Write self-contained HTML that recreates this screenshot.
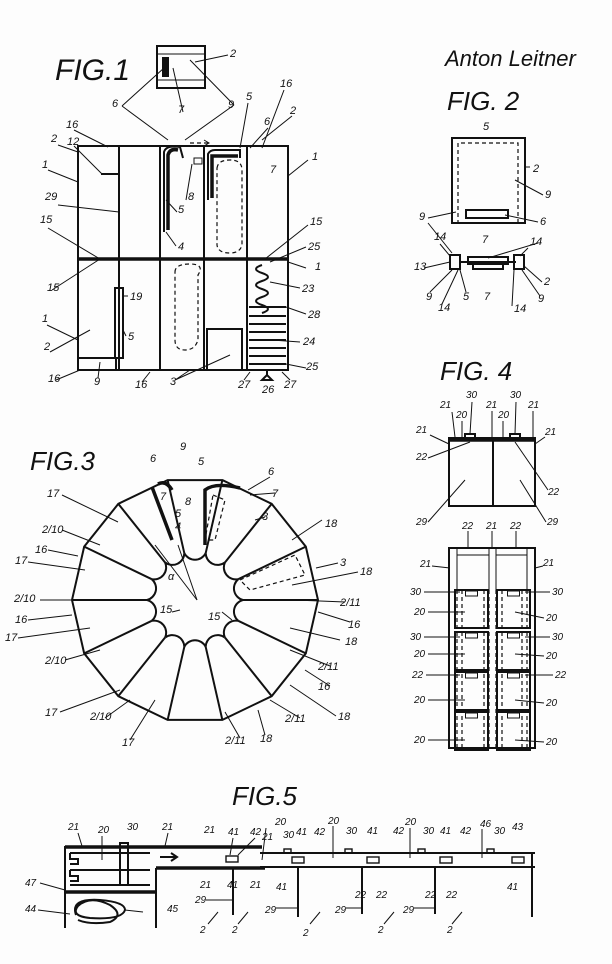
<!DOCTYPE html>
<html><head><meta charset="utf-8"><style>
html,body{margin:0;padding:0;background:#fff}
svg{display:block}
text{font-family:"Liberation Sans",sans-serif;font-style:italic;fill:#111}
.l{stroke:#111;stroke-width:1;fill:none}
.m{stroke:#111;stroke-width:2;fill:none}
.t{stroke:#111;stroke-width:3.5;fill:none}
.d{stroke:#111;stroke-width:1.2;fill:none;stroke-dasharray:4 3}
</style></head><body>
<svg id="s" width="612" height="964" viewBox="0 0 612 964" xmlns="http://www.w3.org/2000/svg">
<rect width="612" height="964" fill="#fdfdfd"/>
<!-- FIG 1 -->
<text x="55" y="80" font-size="30">FIG.1</text>
<rect class="m" x="157" y="46" width="48" height="42"/>
<line class="l" x1="157" y1="54" x2="205" y2="54"/><line class="l" x1="157" y1="80" x2="205" y2="80"/>
<rect x="162" y="57" width="7" height="20" fill="#111"/>
<rect class="m" x="78" y="146" width="210" height="224"/>
<line class="t" x1="78" y1="259" x2="288" y2="259"/>
<line class="m" x1="119" y1="146" x2="119" y2="370"/>
<line class="m" x1="160" y1="146" x2="160" y2="370"/>
<line class="m" x1="204" y1="146" x2="204" y2="370"/>
<line class="m" x1="247" y1="146" x2="247" y2="370"/>
<line class="m" x1="101" y1="174" x2="119" y2="174"/>
<path class="t" d="M168 230 V155 Q170 148 178 150"/>
<path class="m" d="M164 232 V152 Q166 145 180 147 L183 158"/>
<path class="m" d="M208 200 V154 Q210 150 215 150 H240 V158"/>
<path class="t" d="M212 198 V156 H238"/>
<rect class="l" x="194" y="158" width="8" height="6"/>
<path class="d" d="M217 168 Q218 160 230 160 Q242 160 242 170 V245 Q240 253 230 253 Q218 253 217 245 Z"/>
<path class="d" d="M175 272 Q175 264 190 264 Q205 264 198 275 V340 Q195 350 185 350 Q175 350 175 340 Z"/>
<rect class="m" x="207" y="329" width="35" height="41"/>
<path class="m" d="M262 265 q-12 4 0 8 q12 4 0 8 q-12 4 0 8 q12 4 0 8 q-12 4 0 8 q12 4 0 8"/>
<path class="m" d="M249 307 H286 M249 316 H286 M249 324 H286 M249 332 H286 M249 340 H286 M249 348 H286 M249 356 H286 M249 364 H286"/>
<rect class="m" x="115" y="288" width="8" height="70"/>
<rect class="m" x="78" y="358" width="38" height="12"/>
<path class="m" d="M267 375 l-5 5 h10 z"/><line class="m" x1="267" y1="375" x2="267" y2="370"/>
<path class="d" d="M190 143 H208" /><path class="l" d="M204 140 l5 3 l-5 3"/>
<path class="l" d="M228 55 L195 62 M122 106 L168 140 M122 106 L164 68 M183 112 L173 68 M234 105 L185 140 M234 105 L190 60 M248 103 L240 148 M284 90 L262 148 M292 116 L262 140 M268 128 L250 148 M74 130 L108 147 M74 146 L102 174 M58 145 L78 152 M48 170 L78 182 M58 205 L119 212 M48 228 L100 259 M52 290 L100 259 M47 325 L78 340 M50 352 L90 330 M56 380 L80 370 M98 378 L100 362 M142 382 L150 372 M175 380 L190 370 M175 380 L230 355 M308 160 L288 176 M308 225 L265 259 M306 247 L270 262 M306 268 L288 262 M300 288 L270 282 M306 314 L286 307 M300 342 L272 340 M306 368 L286 364 M244 380 L250 372 M290 380 L282 372 M186 200 L192 164 M177 212 L166 200 M176 246 L166 232 M128 296 L123 296 M126 336 L123 330"/>
<g font-size="11">
<text x="230" y="57">2</text><text x="112" y="107">6</text><text x="178" y="113">7</text><text x="228" y="108">9</text>
<text x="246" y="100">5</text><text x="280" y="87">16</text><text x="290" y="114">2</text><text x="264" y="125">6</text>
<text x="66" y="128">16</text><text x="67" y="145">12</text><text x="51" y="142">2</text><text x="42" y="168">1</text>
<text x="45" y="200">29</text><text x="40" y="223">15</text><text x="47" y="291">15</text><text x="42" y="322">1</text>
<text x="44" y="350">2</text><text x="48" y="382">16</text><text x="94" y="385">9</text><text x="135" y="388">16</text><text x="170" y="385">3</text>
<text x="188" y="200">8</text><text x="178" y="213">5</text><text x="178" y="250">4</text><text x="130" y="300">19</text><text x="128" y="340">5</text>
<text x="270" y="173">7</text><text x="312" y="160">1</text><text x="310" y="225">15</text><text x="308" y="250">25</text><text x="315" y="270">1</text>
<text x="302" y="292">23</text><text x="308" y="318">28</text><text x="303" y="345">24</text><text x="306" y="370">25</text>
<text x="238" y="388">27</text><text x="262" y="393">26</text><text x="284" y="388">27</text>
</g>
<!-- FIG 2 -->
<text x="445" y="66" font-size="22">Anton Leitner</text>
<text x="447" y="110" font-size="26">FIG. 2</text>
<rect class="m" x="452" y="138" width="73" height="85"/>
<path class="d" d="M458 224 V143 H518 V224"/>
<rect class="m" x="466" y="210" width="42" height="8"/>
<rect class="m" x="450" y="255" width="10" height="14"/><rect class="m" x="514" y="255" width="10" height="14"/>
<rect class="m" x="468" y="257" width="40" height="7"/><rect class="m" x="473" y="264" width="30" height="5"/>
<line class="m" x1="460" y1="262" x2="516" y2="262"/>
<path class="l" d="M530 167 L525 167 M543 195 L515 180 M428 218 L456 212 M538 222 L505 215 M428 223 L452 253 M538 243 L488 258 M440 244 L450 256 M528 248 L520 256 M424 268 L450 262 M542 282 L524 266 M430 292 L452 270 M442 304 L458 270 M466 292 L460 270 M512 306 L514 270 M540 296 L522 270"/>
<g font-size="11"><text x="483" y="130">5</text><text x="533" y="172">2</text><text x="545" y="198">9</text><text x="419" y="220">9</text>
<text x="540" y="225">6</text><text x="482" y="243">7</text><text x="434" y="240">14</text><text x="530" y="245">14</text>
<text x="414" y="270">13</text><text x="544" y="285">2</text><text x="426" y="300">9</text><text x="438" y="311">14</text><text x="463" y="300">5</text>
<text x="484" y="300">7</text><text x="514" y="312">14</text><text x="538" y="302">9</text></g>
<!-- FIG 3 -->
<text x="30" y="470" font-size="26">FIG.3</text>
<g id="f3"></g>
<path class="t" d="M152 487 L172 540 M158 484 Q166 480 172 490"/>
<path class="t" d="M205 545 V490 Q215 482 240 488"/>
<path class="d" d="M213 495 L225 500 L215 540 L205 540 Z"/>
<path class="d" d="M240 580 L295 555 L305 575 L250 590 Z"/>
<path class="l" d="M62 495 L118 522 M62 530 L100 545 M48 550 L78 556 M28 562 L85 570 M40 600 L75 600 M28 620 L72 615 M18 638 L90 628 M65 660 L100 650 M60 712 L120 690 M105 718 L130 700 M130 740 L155 700 M240 738 L225 712 M265 735 L258 710 M300 718 L270 700 M336 716 L290 685 M330 666 L290 650 M330 686 L305 670 M340 640 L290 628 M350 622 L318 612 M345 602 L295 600 M358 572 L292 585 M338 563 L316 568 M322 520 L292 540 M270 477 L248 490 M275 493 L250 495 M265 517 L255 520 M172 612 L180 610 M222 612 L232 620"/>
<g font-size="11"><text x="150" y="462">6</text><text x="180" y="450">9</text><text x="198" y="465">5</text><text x="268" y="475">6</text>
<text x="272" y="497">7</text><text x="262" y="520">3</text><text x="325" y="527">18</text><text x="340" y="566">3</text>
<text x="160" y="500">7</text><text x="185" y="505">8</text><text x="175" y="517">5</text><text x="175" y="530">4</text>
<text x="47" y="497">17</text><text x="42" y="533">2/10</text><text x="35" y="553">16</text><text x="15" y="564">17</text>
<text x="14" y="602">2/10</text><text x="15" y="623">16</text><text x="5" y="641">17</text><text x="45" y="664">2/10</text>
<text x="45" y="716">17</text><text x="90" y="720">2/10</text><text x="122" y="746">17</text><text x="225" y="744">2/11</text>
<text x="260" y="742">18</text><text x="285" y="722">2/11</text><text x="338" y="720">18</text><text x="318" y="670">2/11</text>
<text x="318" y="690">16</text><text x="345" y="645">18</text><text x="340" y="606">2/11</text><text x="348" y="628">16</text>
<text x="360" y="575">18</text><text x="160" y="613">15</text><text x="208" y="620">15</text><text x="168" y="580">α</text></g>
<!-- FIG 4 -->
<text x="440" y="380" font-size="26">FIG. 4</text>
<rect class="m" x="449" y="438" width="86" height="68"/>
<line class="m" x1="493" y1="438" x2="493" y2="506"/>
<line class="t" x1="449" y1="440" x2="535" y2="440"/>
<rect class="m" x="465" y="434" width="10" height="5"/><rect class="m" x="510" y="434" width="10" height="5"/>
<rect class="m" x="449" y="548" width="86" height="200"/>
<line class="l" x1="457" y1="548" x2="457" y2="590"/><line class="l" x1="527" y1="548" x2="527" y2="590"/>
<line class="l" x1="489" y1="548" x2="489" y2="590"/><line class="l" x1="496" y1="548" x2="496" y2="590"/>
<line class="l" x1="457" y1="555" x2="489" y2="555"/><line class="l" x1="496" y1="555" x2="527" y2="555"/>
<g id="f4"></g>
<path class="l" d="M452 412 L455 437 M462 421 L462 437 M472 402 L470 434 M492 411 L492 437 M503 421 L503 437 M516 402 L515 434 M533 411 L533 437 M430 435 L449 444 M545 437 L535 444 M428 458 L470 442 M548 490 L515 442 M428 522 L465 480 M546 522 L520 480 M468 531 L468 548 M492 531 L492 548 M516 531 L516 548 M432 566 L450 568 M543 566 L535 568 M424 592 L460 592 M550 592 L525 592 M428 612 L465 612 M544 618 L515 612 M424 637 L460 637 M550 637 L525 637 M428 654 L465 654 M544 656 L515 654 M426 675 L460 675 M553 675 L525 675 M428 700 L465 700 M544 703 L515 700 M428 740 L465 740 M544 742 L515 740"/>
<g font-size="10"><text x="440" y="408">21</text><text x="456" y="418">20</text><text x="466" y="398">30</text><text x="486" y="408">21</text>
<text x="498" y="418">20</text><text x="510" y="398">30</text><text x="528" y="408">21</text><text x="416" y="433">21</text>
<text x="545" y="435">21</text><text x="416" y="460">22</text><text x="548" y="495">22</text><text x="416" y="525">29</text><text x="547" y="525">29</text>
<text x="462" y="529">22</text><text x="486" y="529">21</text><text x="510" y="529">22</text><text x="420" y="567">21</text><text x="543" y="566">21</text>
<text x="410" y="595">30</text><text x="552" y="595">30</text><text x="414" y="615">20</text><text x="546" y="621">20</text>
<text x="410" y="640">30</text><text x="552" y="640">30</text><text x="414" y="657">20</text><text x="546" y="659">20</text>
<text x="412" y="678">22</text><text x="555" y="678">22</text><text x="414" y="703">20</text><text x="546" y="706">20</text>
<text x="414" y="743">20</text><text x="546" y="745">20</text></g>
<!-- FIG 5 -->
<text x="232" y="805" font-size="26">FIG.5</text>
<line class="m" x1="65" y1="846" x2="65" y2="928"/>
<line class="t" x1="65" y1="847" x2="262" y2="847"/>
<line class="t" x1="65" y1="892" x2="156" y2="892"/>
<line class="m" x1="156" y1="868" x2="156" y2="928"/>
<line class="t" x1="156" y1="868" x2="265" y2="868"/>
<path class="m" d="M70 853 H150 M70 870 H150 M70 885 H150"/>
<path class="m" d="M70 853 v6 h8 v5 h-8 M70 870 v6 h8 v5 h-8"/>
<rect class="m" x="120" y="843" width="8" height="42"/>
<path class="m" d="M160 857 H177 M171 853 l6 4 l-6 4"/>
<path class="m" d="M76 915 Q70 898 100 900 Q125 902 125 910 Q122 920 90 918 Q70 916 78 906 Q90 895 110 905 Q125 915 110 922 Q90 925 78 920"/>
<line class="m" x1="260" y1="853" x2="535" y2="853"/>
<line class="m" x1="260" y1="867" x2="535" y2="867"/>
<g class="m">
<line x1="233" y1="868" x2="233" y2="915"/><line x1="298" y1="867" x2="298" y2="917"/>
<line x1="362" y1="867" x2="362" y2="914"/><line x1="435" y1="867" x2="435" y2="914"/>
<line x1="532" y1="853" x2="532" y2="917"/></g>
<g fill="none" stroke="#111" stroke-width="1.4">
<rect x="226" y="856" width="12" height="6"/><rect x="292" y="857" width="12" height="6"/><rect x="367" y="857" width="12" height="6"/>
<rect x="440" y="857" width="12" height="6"/><rect x="512" y="857" width="12" height="6"/>
<rect x="284" y="849" width="7" height="4"/><rect x="345" y="849" width="7" height="4"/><rect x="418" y="849" width="7" height="4"/><rect x="487" y="849" width="7" height="4"/>
</g>
<path class="l" d="M78 833 L82 846 M102 836 L102 860 M168 833 L165 846 M40 883 L65 890 M38 910 L70 914 M143 912 L125 910 M266 828 L262 860 M333 826 L333 858 M410 828 L410 858 M482 829 L482 858 M255 838 L238 855 M233 838 L230 855 M208 924 L218 912 M238 924 L248 912 M310 924 L320 912 M384 924 L394 912 M452 924 L462 912 M206 900 L233 900 M276 908 L298 908 M346 908 L362 908 M414 908 L435 908"/>
<g font-size="10"><text x="68" y="830">21</text><text x="98" y="833">20</text><text x="127" y="830">30</text><text x="162" y="830">21</text>
<text x="204" y="833">21</text><text x="228" y="835">41</text><text x="250" y="835">42</text><text x="262" y="840">21</text>
<text x="275" y="825">20</text><text x="283" y="838">30</text><text x="296" y="835">41</text><text x="314" y="835">42</text>
<text x="328" y="824">20</text><text x="346" y="834">30</text><text x="367" y="834">41</text><text x="393" y="834">42</text>
<text x="405" y="825">20</text><text x="423" y="834">30</text><text x="440" y="834">41</text><text x="460" y="834">42</text>
<text x="480" y="827">46</text><text x="494" y="834">30</text><text x="512" y="830">43</text><text x="25" y="886">47</text>
<text x="25" y="912">44</text><text x="167" y="912">45</text><text x="200" y="888">21</text><text x="227" y="888">41</text>
<text x="250" y="888">21</text><text x="276" y="890">41</text><text x="195" y="903">29</text><text x="265" y="913">29</text>
<text x="335" y="913">29</text><text x="403" y="913">29</text><text x="355" y="898">22</text><text x="376" y="898">22</text>
<text x="425" y="898">22</text><text x="446" y="898">22</text><text x="507" y="890">41</text>
<text x="200" y="933">2</text><text x="232" y="933">2</text><text x="303" y="936">2</text><text x="378" y="933">2</text><text x="447" y="933">2</text></g>
</svg>
<script>
(function(){
var ns="http://www.w3.org/2000/svg",g=document.getElementById("f3"),cx=195,cy=600,R=123,r=48,n=14,pts=[];
function el(t,a){var e=document.createElementNS(ns,t);for(var k in a)e.setAttribute(k,a[k]);g.appendChild(e);return e;}
for(var i=0;i<n;i++){var a=-Math.PI/2+(i+0.5)*2*Math.PI/n;pts.push([cx+R*Math.cos(a),cy+R*Math.sin(a)]);
el("line",{x1:cx+r*Math.cos(a),y1:cy+r*Math.sin(a),x2:cx+R*Math.cos(a),y2:cy+R*Math.sin(a),"class":"m"});}
el("polygon",{points:pts.map(function(p){return p.join(",")}).join(" "),"class":"m"});
var d="";for(var i=0;i<n;i++){var a1=-Math.PI/2+(i+0.5)*2*Math.PI/n,a2=a1+2*Math.PI/n;
var x1=cx+r*Math.cos(a1),y1=cy+r*Math.sin(a1),x2=cx+r*Math.cos(a2),y2=cy+r*Math.sin(a2);
d+="M"+x1+" "+y1+" A12 12 0 0 0 "+x2+" "+y2+" ";}
el("path",{d:d,"class":"m"});
el("line",{x1:155,y1:545,x2:197,y2:600,"class":"l"});el("line",{x1:178,y1:545,x2:197,y2:600,"class":"l"});
var h=document.getElementById("f4");
function e4(t,a){var e=document.createElementNS(ns,t);for(var k in a)e.setAttribute(k,a[k]);h.appendChild(e);}
[590,632,672,712].forEach(function(y){[[455,488],[497,530]].forEach(function(c){
e4("rect",{x:c[0],y:y,width:c[1]-c[0],height:38,"class":"m"});
e4("rect",{x:(c[0]+c[1])/2-6,y:y+1,width:12,height:5,"class":"l"});});});
[457,489,496,527].forEach(function(x){e4("line",{x1:x,y1:590,x2:x,y2:748,"class":"d"});});
[462,484,502,522].forEach(function(x){e4("line",{x1:x,y1:590,x2:x,y2:748,"class":"d"});});
})();
</script>
</body></html>
